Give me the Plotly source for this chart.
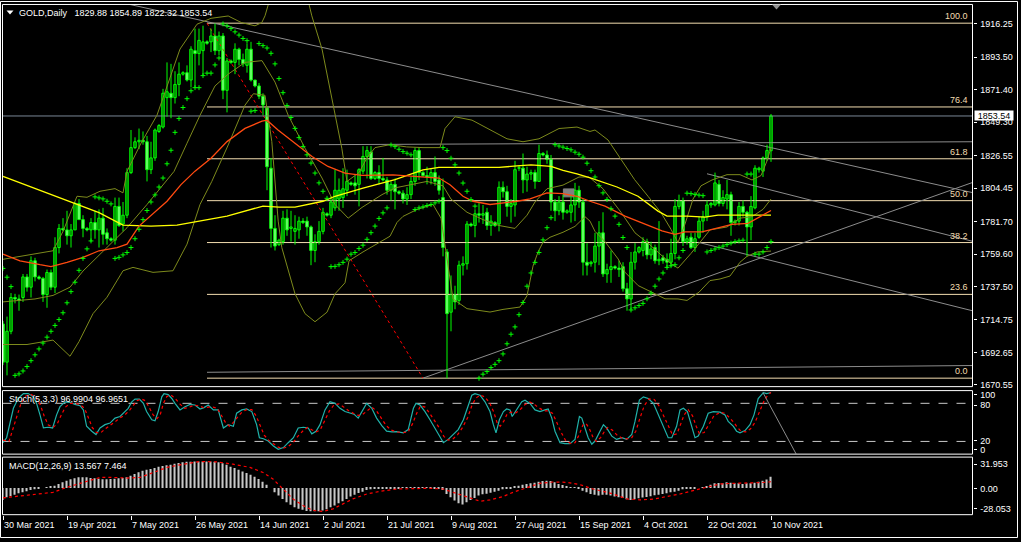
import plotly.graph_objects as go

W, H = 1021, 542

# ---------------- DATA ----------------
date_ticks = [0, 16, 32, 48, 64, 80, 96, 112, 128, 144, 160, 176, 192]
date_labels = ["30 Mar 2021", "19 Apr 2021", "7 May 2021", "26 May 2021", "14 Jun 2021",
               "2 Jul 2021", "21 Jul 2021", "9 Aug 2021", "27 Aug 2021", "15 Sep 2021",
               "4 Oct 2021", "22 Oct 2021", "10 Nov 2021"]

price_ticks = [1916.25, 1893.50, 1871.40, 1849.30, 1826.55, 1804.45, 1781.70,
               1759.60, 1737.50, 1714.75, 1692.65, 1670.55]

open_ = [1712,1686,1707,1730,1729,1730,1744,1737,1755,1744,
         1743,1732,1747,1737,1764,1777,1776,1772,1776,1794,
         1783,1777,1776,1781,1776,1784,1774,1770,1769,1792,
         1780,1786,1815,1832,1836,1837,1836,1817,1825,1843,
         1846,1866,1869,1866,1875,1882,1883,1878,1898,1896,
         1898,1904,1904,1908,1898,1908,1871,1891,1890,1899,
         1892,1888,1899,1878,1874,1867,1859,1818,1777,1766,
         1768,1784,1777,1775,1776,1782,1782,1778,1762,1768,
         1775,1787,1786,1791,1797,1798,1803,1808,1808,1807,
         1816,1826,1829,1811,1815,1811,1810,1803,1807,1802,
         1801,1797,1800,1809,1830,1815,1813,1812,1815,1810,
         1798,1761,1720,1732,1728,1752,1753,1780,1779,1787,
         1786,1788,1779,1781,1780,1805,1802,1792,1793,1818,
         1818,1810,1814,1815,1809,1828,1827,1824,1795,1789,
         1795,1788,1788,1793,1803,1795,1754,1753,1754,1765,
         1774,1746,1749,1751,1750,1751,1736,1729,1754,1761,
         1762,1768,1759,1764,1755,1757,1756,1754,1760,1792,
         1796,1768,1771,1764,1771,1782,1785,1793,1793,1807,
         1794,1797,1800,1781,1782,1792,1788,1778,1791,1817,
         1816,1825,1829.88]
high = [1714,1717,1733,1732.5,1732,1746,1746,1758,1757,1745,
        1744,1749,1749,1771,1780,1784,1789,1780,1795,1797,
        1786,1778,1784,1789,1790,1791,1777,1771,1798,1798,
        1795,1818,1844,1839,1845,1843,1840,1836,1845,1848,
        1872,1890,1889,1884,1890,1884,1888,1901,1913,1913,
        1915,1905,1913,1916.5,1911,1910,1893,1892,1903,1900,
        1896,1903,1904,1878,1876,1869,1860,1825,1786,1770,
        1789,1790,1789,1786,1785,1784,1785,1779,1773,1782,
        1791,1788,1799,1817,1811,1818,1817,1809,1813,1818,
        1833,1833,1833,1816,1820,1825,1812,1809,1811,1803,
        1803,1805,1812,1832,1832,1816,1819,1818,1826,1813,
        1811,1763,1745,1738,1755,1758,1782,1781,1790,1795,
        1793,1791,1786,1782,1809,1809,1806,1797,1823,1820,
        1828,1819,1817,1817,1834,1829,1830,1827,1797,1799,
        1800,1790,1799,1808,1806,1797,1767,1755,1774,1782,
        1788,1753,1762,1752,1755,1754,1740,1761,1767,1765,
        1771,1770,1768,1766,1782,1759,1760,1770,1797,1800,
        1798,1772,1774,1774,1785,1789,1796,1795,1815,1810,
        1803,1810,1802,1783,1795,1796,1789,1799,1820,1819,
        1826,1834,1854.89]
low = [1684,1677,1705,1726,1721,1727,1734,1730,1741,1742,
       1727,1723,1735,1733,1760,1775,1766,1764,1776,1783,
       1771,1775,1768,1770,1764,1766,1766,1768,1766,1778,
       1775,1784,1814,1831,1831,1834,1809,1814,1823,1842,
       1845,1853,1852,1862,1867,1881,1877,1873,1873,1888,
       1881,1902,1897,1895,1895,1865,1856,1889,1882,1888,
       1887,1883,1877,1873,1865,1854,1803,1764,1762,1765,
       1766,1772,1768,1766,1770,1780,1772,1752,1754,1766,
       1773,1785,1784,1789,1789,1791,1799,1806,1800,1792,
       1814,1811,1810,1810,1807,1809,1800,1796,1790,1800,
       1794,1793,1797,1806,1810,1812,1807,1807,1806,1800,
       1758,1675,1707,1722,1725,1745,1749,1778,1771,1781,
       1780,1776,1772,1778,1775,1798,1785,1781,1785,1816,
       1801,1802,1810,1804,1809,1826,1821,1789,1782,1786,
       1783,1787,1781,1782,1791,1745,1745,1751,1747,1752,
       1744,1740,1740,1749,1744,1734,1721,1722,1749,1760,
       1758,1756,1756,1753,1752,1753,1750,1751,1756,1790,
       1765,1766,1763,1761,1770,1774,1782,1791,1792,1792,
       1792,1790,1772,1779,1779,1785,1758,1769,1790,1815,
       1812,1823,1822.32]
close = [1686,1707,1730,1729,1728,1744,1737,1755,1744,1743,
         1732,1747,1737,1764,1777,1776,1772,1776,1794,1783,
         1777,1776,1781,1776,1784,1773,1770,1769,1792,1779,
         1786,1815,1832,1836,1837,1836,1817,1825,1844,1847,
         1869,1870,1866,1875,1882,1883,1878,1899,1896,1905,
         1904,1903,1908,1898,1908,1871,1891,1890,1899,1892,
         1889,1899,1878,1874,1867,1861,1819,1777,1765,1769,
         1784,1776,1778,1777,1782,1781,1778,1762,1768,1775,
         1788,1786,1795,1803,1803,1804,1809,1807,1806,1817,
         1826,1830,1811,1815,1811,1810,1803,1807,1802,1801,
         1797,1800,1809,1830,1815,1813,1812,1815,1809,1803,
         1764,1719,1732,1727,1752,1753,1780,1779,1787,1786,
         1787,1779,1782,1779,1805,1802,1792,1794,1817,1818,
         1810,1814,1815,1809,1828,1827,1824,1795,1789,1795,
         1788,1789,1793,1803,1795,1754,1752,1754,1765,1774,
         1746,1749,1751,1750,1749,1736,1729,1754,1761,1764,
         1768,1759,1763,1755,1756,1755,1754,1760,1792,1796,
         1768,1770,1764,1770,1782,1785,1793,1794,1808,1794,
         1798,1800,1781,1782,1792,1788,1778,1792,1818,1818,
         1825,1830,1853.54]

sar = [1749.8,1743.8,1737.4,1677,1678,1680,1683,1687,1691,1695,
       1699,1703,1707,1711,1715,1719.6,1726.4,1734,1740.4,1748.5,
       1756.6,1763.1,1768.5,1798.5,1797.8,1797.1,1795.5,1793.7,1756.6,1757.3,
       1759,1760.6,1764,1770,1776.4,1783,1789.2,1795,1799.8,1805.2,
       1811.3,1821,1830.2,1842.4,1851.8,1859.3,1865.3,1870.7,1872.8,1872.8,
       1881,1882.7,1882.7,1888.3,1893,1916.2,1914.9,1913,1910.8,1908.6,
       1906.3,1904.8,1856.8,1857.2,1902.8,1901.4,1899.8,1896.2,1889,1879,
       1869.4,1860.6,1852.5,1845.1,1838.8,1832.7,1827.1,1821.5,1814.7,1808,
       1802.3,1797.5,1751,1751.2,1752.3,1753.9,1756.1,1759.5,1760.6,1763.3,
       1765.6,1769.6,1774.1,1778.6,1783.8,1787.6,1791,1833.8,1832.7,1830.9,
       1829.3,1828.2,1827.1,1789.9,1791,1791.7,1792.6,1793.3,1794.4,1795.5,
       1832,1830,1824.8,1820.3,1814.7,1807.9,1802.3,1796.7,1792.2,1675,
       1677.8,1679.6,1682.3,1684.5,1687,1691.6,1698.5,1705,1710,1718.3,
       1726.6,1737.7,1746.7,1753.9,1760.6,1769.2,1777.5,1784.3,1834,1833.1,
       1832.3,1831.4,1830.5,1828.9,1827.5,1825.5,1821.4,1816.3,1812,1806.1,
       1801.2,1796.7,1790.4,1785.4,1779.8,1770.8,1764,1721.5,1723,1724.5,
       1726,1729.1,1733,1737.7,1742.6,1746.7,1750.5,1751.6,1752.3,1757,
       1762,1801,1800.7,1800.2,1799.7,1799.3,1761,1762,1763,1764,
       1765,1766,1767,1768,1768.5,1769,1814,1814,1759.5,1759.5,
       1761,1764,1768]

ma_yellow_bar = [0,7.5,16,24,30,37,43.5,47,49,56,65,69,73,80,83,90,98,105,109,124,128.5,
                 132,137,140,143.5,147,153.5,158.75,163.75,166,171,175.5,178.75,187,192]
ma_yellow_val = [1812.4,1804.6,1795.5,1787.7,1779.3,1778.6,1779.3,1780.9,1782,1785.4,1792.2,
                 1791.5,1791.5,1795.5,1798.9,1804.5,1810.2,1816.9,1818.5,1818.5,1819.6,1820.3,
                 1819.2,1816.5,1814.2,1811.3,1805.2,1798.9,1788.8,1785.4,1785.4,1784.7,1786.1,
                 1786.1,1786.1]

ma_orange_bar = [0,4.25,9.25,12,16,20,24,28.5,31,34,41,44.5,48,52,56,60.5,64.75,66,68.75,73,
                 77.25,81.25,85.5,89.75,97.5,109,111.75,115,117.5,121.75,128.5,131.75,136,140,
                 143.5,146.75,150.5,155.5,160.5,164.75,168,170.5,174.75,178.75,182.25,186.25,
                 188.75,192]
ma_orange_val = [1759.5,1755,1752.3,1751,1753.9,1757.3,1761.8,1764,1766.3,1778.6,1795.5,1806.8,
                 1816,1824.8,1836.1,1845.1,1850,1850.7,1844,1835,1826,1819.2,1814.7,1813.1,
                 1813.4,1811.3,1806.8,1798.9,1795.5,1793.3,1795.5,1797.1,1801.2,1800.7,1798.9,
                 1795.5,1792.2,1785.4,1779.8,1775.3,1773,1774.6,1774.6,1777.5,1779.8,1780.5,
                 1784.3,1789.2]

# Bollinger bands (upper / middle / lower), read as (bar, price)
bb_up_bar = [0,6,12.5,15,18.5,21,24.25,28,30,31,34.5,38.5,41.5,44.25,48.5,52,56.3,59.6,63,
             64.7,65.5,66.5,68,71,74,76.5,77.2,79.75,81.4,83,84.7,86,87.5,89,91,93,96.75,100.9,
             105,109.25,110.5,113,117.25,121.75,126,130,134,139,143.5,146.75,148,151.25,154.5,
             157.9,161.25,164.5,167,168.75,170.5,172.5,174.5,177.25,181,184.25,187.25,189.5,
             191,192]
bb_up_val = [1756,1759,1761.8,1775,1798.9,1798.2,1802.3,1804.1,1801.2,1815.8,1835,1854.1,1877,
             1899.1,1916,1920,1921.6,1917.1,1914.9,1917.1,1921.7,1930,1945,1958,1948,1929.6,
             1921.7,1899.1,1876.6,1854.1,1831.6,1809,1812,1815,1825,1832,1834,1832.5,1832,1832,
             1845,1853,1850.7,1844,1838,1836,1838,1845,1846,1843,1844,1837.2,1823.7,1810.2,
             1798.9,1787.7,1776.4,1767.4,1780,1797,1806,1810,1813.6,1813.6,1810,1813,1823,1832]
bb_mid_bar = [0,8,12.5,16.75,20,24.25,28,31,36,42.75,46,49.25,53,56.3,60.5,64.75,68,71.3,75.5,
              79.75,83,86.3,89.75,94.75,98,102,106,110,112,116,120,124,128,131,133,136,140,144,
              146.5,150,154.5,158,161.25,164.5,167,168.75,172,176.75,181,184.25,187.25,190,192]
bb_mid_val = [1727,1729,1731.4,1737,1748,1759.5,1769,1777.5,1793.3,1815.8,1835,1854,1874,1882,
              1890,1891.2,1876.6,1854.1,1831.6,1811.3,1793.3,1784,1791.3,1800,1804.6,1807,1809,
              1806,1797,1788,1783,1779,1777,1786,1795,1804,1806.5,1812,1812,1804,1788,1774,1767,
              1759,1753,1750,1760,1776,1778,1784,1785,1790,1797]
bb_low_bar = [0,6,12.5,16.75,19,22.5,26,30,32.5,37.5,42.5,46,49.25,52.2,56.3,60.5,62.6,65.5,
              67.2,68,68.8,69.7,73,75.5,78,81,83,85.5,86.5,90,93,96.75,98.5,100,103.5,107.5,
              109.5,110.5,111.5,112.5,116,121.75,125,129.25,131,131.75,132.5,133.75,135,136.75,
              140,143,145.5,146.75,148,150.5,153.8,155.5,158.8,162.2,165.5,168.75,171,174,
              176.75,179.25,181.75,184.25,186,188.5,192]
bb_low_val = [1698,1698,1701,1690,1700,1719,1730.2,1748.2,1750.5,1747.1,1748.2,1766.3,1793.3,
              1809,1833.8,1860.9,1868.7,1867.6,1836.1,1809,1782,1764,1732.5,1719,1713.5,1720,
              1732.5,1740,1755,1761,1766,1771.7,1781.1,1785.2,1789.9,1793.3,1784,1765,1745,1729,
              1722.4,1720.1,1721.9,1723.5,1731.2,1742.6,1751.4,1760.9,1767.6,1771,1774.4,1778.4,
              1785,1782,1775,1768,1756.2,1747.2,1738.1,1733.6,1729.1,1729,1728,1733.6,1741.5,
              1742.6,1744.6,1754,1758,1761,1761.6]

stoch_main_bar = [0,0.9,2.6,3.8,5.1,6.3,7.6,8.4,9.25,10.1,11.3,12.4,13.4,14.25,15.5,16.75,18,
                  19.25,20.1,20.9,22.2,23.25,24.25,25.5,26.75,28,29.25,30.5,31.3,32.2,33,34.1,
                  35.1,35.9,37.2,38,38.8,39.7,40.25,41.3,42.2,43,44.25,45.5,46.75,48,49.25,50.25,
                  51.3,52.6,53.8,55.1,56.3,57.6,58.4,59.7,60.9,62.2,63.4,64.1,65.1,66.3,67.6,
                  68.8,70.1,71.3,72.6,73.8,75.1,76.3,77.2,78.25,79.25,80.5,81.75,83,84.25,85.5,
                  86.75,87.75,88.8,89.7,90.9,92.2,93.4,94.7,95.9,97.2,98.4,100.1,101.3,102.6,
                  103.25,104.25,105.5,106.75,108,109.25,110.1,111.3,112.6,113.8,115.1,116.3,
                  117.2,118,119.25,120.5,121.75,122.6,123.25,124.1,125.1,125.9,126.75,127.3,
                  128.4,129.7,130.5,131.75,133,134.25,135.5,136.3,137.2,138,139.25,140.5,141.75,
                  143,144.1,144.7,145.5,146.3,147.2,148,149.25,150.1,150.9,152.2,153.4,154.7,
                  155.9,157.2,158,159.1,160.1,161.3,162.6,163.8,165.1,166.3,167.2,168.4,169.25,
                  170.1,171.1,172.2,173,173.8,175.1,176.3,177.6,179.25,180.5,181.3,182.6,183.4,
                  184.25,185.5,186.75,187.75,188.8,190.1,190.9,192]
stoch_main_val = [18,25.8,72.1,87.6,95.3,95.3,90.2,79.9,61.8,41.2,42.3,41.2,61.8,74.7,82.4,81.4,
                  78.3,76.3,69.6,43.8,36.1,30.9,41.2,46.4,48.9,56.7,59.3,67,72.1,82.4,86.6,86.6,
                  79.9,67,54.1,52.6,67,90.2,95.3,93.8,87.6,79.9,69.6,74.7,78.3,77.3,71.1,73.2,
                  77.3,69.6,69.6,41.2,46.4,43.8,64.4,69.6,71.1,67,46.4,25.8,24.2,20.6,12.9,7.7,
                  10.3,18,25.8,41.2,42.3,41.2,31.9,36.1,46.4,69.6,82.4,79.9,72.1,67,64.4,62.9,
                  56.7,67,79.9,72.1,56.7,45,36.1,35,35.5,33.5,38.6,72.1,79.9,77.3,67,54.1,41.2,
                  28.3,18,23.2,30.9,38.6,54.1,77.3,92.7,95.3,92.7,82.4,67,46.4,33.5,54.1,67,71.1,
                  69.6,59.3,69.6,82.4,85,79.9,69.6,67,69.6,71.1,56.7,36.1,18,16.5,16.5,23.2,59.3,
                  56.7,41.2,25.8,15.5,20.6,36.1,46.4,41.2,28.3,23.2,25.8,23.2,30.9,51.5,85,90.2,
                  87.6,79.9,61.8,41.2,25.8,25.8,43.8,69.6,72.1,67,43.8,25.8,28.3,43.8,64.4,67,66,
                  61.8,51.5,43.8,36.1,33.5,37.1,46.4,61.8,87.6,96.9,95.3,96.99]

stoch_sig_bar = [0,1.5,2.5,3.5,4.5,5.8,7,8.2,9.3,10.3,11.3,12.5,13.6,14.6,15.6,16.8,18,19.3,20.4,
                 21.3,22.3,23.4,24.5,25.6,26.8,28,29.3,30.5,31.5,32.5,33.5,34.6,35.6,36.5,37.5,
                 38.5,39.3,40.1,41,42,43,44.2,45.4,46.6,47.8,49,50.2,51.3,52.5,53.6,54.6,55.6,
                 56.6,57.6,58.6,59.7,60.9,62.2,63.3,64.3,65.3,66.4,67.6,68.8,70,71.3,72.5,73.7,
                 74.9,76.1,77.3,78.3,79.3,80.4,81.6,82.8,84,85.2,86.5,87.7,88.8,89.8,91,92.2,
                 93.4,94.6,95.8,97,98.3,100,101.3,102.4,103.4,104.4,105.5,106.7,108,109.2,110.2,
                 111.3,112.5,113.7,114.9,116.2,117.2,118.2,119.3,120.5,121.7,122.7,123.5,124.3,
                 125.2,126.1,127.1,128.2,129.3,130.5,131.7,132.9,134.2,135.4,136.5,137.4,138.3,
                 139.4,140.6,141.8,143,144,145,145.8,146.6,147.4,148.3,149.4,150.4,151.2,152.3,
                 153.5,154.8,156,157.2,158.2,159.2,160.3,161.5,162.8,164,165.2,166.4,167.4,168.5,
                 169.4,170.3,171.3,172.4,173.3,174.1,175.3,176.5,177.7,179.3,180.6,181.5,182.7,
                 183.6,184.5,185.7,186.9,188,189,190.3,191.2,192]
stoch_sig_val = [22,20,40,62,80,92,94,90,78,60,46,42,48,62,74,80,80,78,72,58,42,34,34,40,46,51,
                 57,62,68,76,84,87,84,74,62,56,62,80,91,93,88,79,72,74,77,76,73,74,74,72,62,50,
                 44,50,58,66,70,70,60,44,30,22,16,11,9,12,18,28,36,42,38,35,38,52,68,78,79,74,
                 68,64,61,62,68,74,68,57,45,38,35,34,35,48,64,76,74,64,52,40,28,22,24,31,42,58,
                 76,88,93,90,80,66,50,44,52,64,66,65,70,78,82,78,72,68,68,64,52,36,22,17,18,30,
                 46,48,40,28,20,26,36,42,38,30,25,24,26,36,56,76,87,86,76,60,42,30,32,46,62,70,
                 60,44,32,34,46,60,66,64,58,50,42,36,35,40,50,66,84,93,96.97]

macd_hist = [-14.4,-11.2,-9.6,-8.0,-6.4,-5.2,-4.0,-2.4,-1.6,-0.4,0.0,0.4,1.6,2.8,4.8,6.8,8.8,10.4,
             11.6,12.8,12.8,12.8,12.0,11.6,11.2,10.4,10.4,10.8,11.2,11.6,12.0,12.8,14.8,16.8,18.8,
             20.8,22.0,22.8,24.0,25.6,26.4,27.2,28.0,29.2,30.0,30.8,31.4,31.6,31.8,31.9,31.953,
             31.9,31.7,31.4,31.0,29.8,27.8,25.5,23.9,21.9,19.9,17.9,15.9,13.5,10.7,7.6,4.0,0.0,
             -5.2,-9.1,-13.1,-17.1,-20.3,-23.1,-25.1,-26.3,-27.8,-28.05,-28.0,-27.9,-27.0,-25.5,
             -23.1,-21.1,-18.3,-15.9,-13.1,-10.3,-8.0,-6.0,-4.4,-2.4,-1.6,-1.2,-0.8,-1.2,-1.0,
             -0.8,-0.4,-0.3,0.3,0.4,0.4,0.8,0.8,0.4,0.2,0.1,-0.2,-0.8,-2.4,-7.2,-11.1,-15.1,
             -18.3,-19.9,-17.1,-14.3,-11.9,-9.1,-7.6,-6.8,-5.6,-4.4,-3.2,-1.6,-0.8,-0.4,1.6,2.8,
             4.0,4.8,5.6,6.4,7.6,8.4,8.8,8.4,6.8,4.8,3.6,2.0,0.8,0.4,-0.4,-3.2,-5.2,-7.2,-8.0,
             -9.1,-8.0,-8.0,-9.1,-10.3,-11.1,-11.9,-13.5,-14.3,-13.5,-12.3,-11.5,-10.7,-9.9,-8.8,
             -8.0,-7.2,-6.4,-5.2,-4.4,-3.2,-1.6,-1.2,-0.4,-0.4,0.0,0.8,2.4,4.0,5.6,6.0,5.6,6.8,
             6.4,5.6,5.6,4.8,5.6,5.6,6.4,7.6,8.8,10.3,13.567]

macd_sig_bar = [0,7.5,12.5,16,19.25,24.25,27.5,31,34.25,37.5,41,44.25,47.5,49.25,53.5,57.5,61.75,
                65,67.5,70,72.5,75,77.5,80,82.5,85,87.5,91,94.25,98.5,102.5,106.75,110,112.5,116,
                119.25,121.75,125,127.5,131,134.25,137.5,141,144.25,147.5,151,152.5,156,159.25,
                162.5,166,169.25,172.5,176,179.25,182.5,186,189.25,192]
macd_sig_val = [-11.9,-8.0,-5.2,0.8,5.6,12.7,12.7,11.9,12.7,18.7,24.7,27.8,30.6,31.8,31.4,28.6,
                24.7,18.7,10.7,-1.2,-13.1,-21.1,-27.0,-28.2,-25.1,-19.1,-13.1,-7.2,-4.0,-1.2,-0.4,
                -0.4,-1.2,-5.2,-11.1,-15.9,-14.3,-10.3,-5.2,0.0,5.6,7.2,6.8,4.0,-1.2,-5.2,-7.2,
                -13.1,-14.3,-13.5,-10.3,-7.2,-3.2,0.8,4.8,5.6,5.6,6.4,7.464]

# drawn objects: (bar, price) anchors
fib_anchor_high = (51, 1916.7)
fib_anchor_low = (105, 1675.1)
fib_levels = [0.0, 23.6, 38.2, 50.0, 61.8, 76.4, 100.0]
trend_long = [(53, 1916.5), (192, 1832.0)]
trend_flat = [(79, 1834.0), (242.3, 1836.0)]
trend_up = [(105, 1675.1), (242.3, 1808.2)]
channel_a = [(176, 1814.2), (242.3, 1768.3)]
channel_b = [(173.75, 1767.6), (242.3, 1721.0)]
trend_bottom = [(51, 1679.1), (242.3, 1683.7)]
grey_box = [(140.1, 1798.5), (142.75, 1803.9)]
bid_price = 1853.54
stoch_trend = [(190, 96.8), (198.25, 0.6)]

title_text = "GOLD,Daily\u00a0\u00a0\u00a01829.88 1854.89 1822.32 1853.54"
stoch_title = "Stoch(5,3,3) 96.9904 96.9651"
macd_title = "MACD(12,26,9) 13.567 7.464"

# ---------------- LAYOUT GEOMETRY (pixels) ----------------
LEFT, RIGHT = 2.5, 972.5
MAIN_T, MAIN_B = 3.5, 388.5
ST_T, ST_B = 392.5, 456.5
MD_T, MD_B = 459.5, 517.5
X0 = (LEFT - 3) / 4.0
X1 = X0 + (RIGHT - LEFT) / 4.0
P_TOP = 1931.79 - 0.67556 * MAIN_T
P_BOT = 1931.79 - 0.67556 * MAIN_B
MACD_TOP = (490.6 - MD_T) / 0.838
MACD_BOT = (490.6 - MD_B) / 0.838


def px(x):
    return x / W


def py(y):
    return 1 - y / H


FONT = "Liberation Sans, Arial, sans-serif"
GREEN = "#00FF00"
FIB_C = "#F3DDB0"
GREY = "#8C8C8C"
OLIVE = "#7D8A1C"

fig = go.Figure()


def ray(p1, p2, x_start, x_end):
    (xa, ya), (xb, yb) = p1, p2
    k = (yb - ya) / (xb - xa)
    return [x_start, x_end], [ya + k * (x_start - xa), ya + k * (x_end - xa)]


def add_line(xs, ys, color, width=1, dash=None, xa="x", ya="y"):
    fig.add_trace(go.Scatter(x=xs, y=ys, mode="lines", xaxis=xa, yaxis=ya,
                             line=dict(color=color, width=width, dash=dash),
                             hoverinfo="skip", showlegend=False))


# ---- objects (behind candles)
fh, fl = fib_anchor_high[1], fib_anchor_low[1]
for lv in fib_levels:
    yv = fl + (fh - fl) * lv / 100.0
    add_line([fib_anchor_high[0], X1], [yv, yv], FIB_C)
add_line([fib_anchor_high[0], fib_anchor_low[0]], [fh, fl], "#FF0000", 1, "dot")

for seg, from_left in ((trend_long, True), (trend_flat, False), (trend_up, False),
                       (channel_a, False), (channel_b, False), (trend_bottom, False)):
    xs, ys = ray(*seg, X0 if from_left else seg[0][0], X1)
    add_line(xs, ys, GREY)
add_line([X0, X1], [bid_price, bid_price], "#7A8696")

fig.add_trace(go.Scatter(
    x=[grey_box[0][0], grey_box[1][0], grey_box[1][0], grey_box[0][0], grey_box[0][0]],
    y=[grey_box[0][1], grey_box[0][1], grey_box[1][1], grey_box[1][1], grey_box[0][1]],
    mode="lines", fill="toself", fillcolor="#808080", line=dict(color="#808080", width=1),
    hoverinfo="skip", showlegend=False))

# ---- candles
n = len(close)
wx, wy = [], []
for i in range(n):
    wx += [i, i, None]
    wy += [low[i], high[i], None]
add_line(wx, wy, GREEN, 1)
base = [min(open_[i], close[i]) for i in range(n)]
hgt = [max(abs(close[i] - open_[i]), 0.3) for i in range(n)]
fills = ["#000000" if close[i] >= open_[i] else "#FFFFFF" for i in range(n)]
fig.add_trace(go.Bar(x=list(range(n)), y=hgt, base=base, width=0.62,
                     marker=dict(color=fills, line=dict(color=GREEN, width=1)),
                     hoverinfo="skip", showlegend=False))

# ---- indicators on price
add_line(bb_up_bar, bb_up_val, OLIVE, 1)
add_line(bb_mid_bar, bb_mid_val, OLIVE, 1)
add_line(bb_low_bar, bb_low_val, OLIVE, 1)
add_line(ma_yellow_bar, ma_yellow_val, "#FFFF00", 1.3)
add_line(ma_orange_bar, ma_orange_val, "#FF4A10", 1.3)
fig.add_trace(go.Scatter(x=list(range(n)), y=sar, mode="markers",
                         marker=dict(symbol="cross-thin", size=3.5, line=dict(color=GREEN, width=1)),
                         hoverinfo="skip", showlegend=False))

# ---- stochastic
for lvl in (80, 20):
    add_line([X0, X1], [lvl, lvl], "#C8C8C8", 1, "dash", "x2", "y2")
add_line(stoch_main_bar, stoch_main_val, "#20B2AA", 1.2, None, "x2", "y2")
add_line(stoch_sig_bar, stoch_sig_val, "#FF0000", 1.2, "dot", "x2", "y2")
add_line([stoch_trend[0][0], stoch_trend[1][0]], [stoch_trend[0][1], stoch_trend[1][1]],
         GREY, 1, None, "x2", "y2")

# ---- MACD
fig.add_trace(go.Bar(x=list(range(n)), y=macd_hist, width=0.28, xaxis="x3", yaxis="y3",
                     marker=dict(color="#C8C8C8", line=dict(width=0)),
                     hoverinfo="skip", showlegend=False))
add_line(macd_sig_bar, macd_sig_val, "#FF0000", 1.2, "dot", "x3", "y3")

# ---------------- axes ----------------
tickfont = dict(family=FONT, size=9, color="#FFFFFF")
common_x = dict(range=[X0, X1], domain=[px(LEFT), px(RIGHT)], showgrid=False,
                zeroline=False, showline=False, fixedrange=True)
fig.update_layout(
    width=W, height=H, margin=dict(l=0, r=0, t=0, b=0),
    paper_bgcolor="#000000", plot_bgcolor="#000000",
    showlegend=False, barmode="overlay", hovermode=False,
    xaxis=dict(**common_x, anchor="y", showticklabels=False, ticks=""),
    yaxis=dict(range=[P_BOT, P_TOP], domain=[py(MAIN_B), py(MAIN_T)], side="right",
               anchor="x", showgrid=False, zeroline=False, showline=False,
               tickvals=price_ticks, ticktext=["%.2f" % v for v in price_ticks],
               ticks="outside", ticklen=3, tickcolor="#FFFFFF", tickfont=tickfont,
               ticklabelstandoff=2),
    xaxis2=dict(**common_x, anchor="y2", showticklabels=False, ticks=""),
    yaxis2=dict(range=[0, 100], domain=[py(ST_B), py(ST_T)], side="right", anchor="x2",
                showgrid=False, zeroline=False, showline=False,
                tickvals=[94.0, 77.0, 21.0, 7.0], ticktext=["100", "80", "20", "0"],
                ticks="outside", ticklen=3, tickcolor="#FFFFFF", tickfont=tickfont,
                ticklabelstandoff=2),
    xaxis3=dict(**common_x, anchor="y3", showticklabels=False, ticks="outside",
                ticklen=4, tickcolor="#FFFFFF", tickvals=date_ticks),
    yaxis3=dict(range=[MACD_BOT, MACD_TOP], domain=[py(MD_B), py(MD_T)], side="right",
                anchor="x3", showgrid=False, zeroline=False, showline=False,
                tickvals=[28.5, -0.5, -25.2], ticktext=["31.953", "0.00", "-28.053"],
                ticks="outside", ticklen=3, tickcolor="#FFFFFF", tickfont=tickfont,
                ticklabelstandoff=2),
)

# ---------------- frames ----------------
shapes = []
for (t, b) in ((MAIN_T, MAIN_B), (ST_T, ST_B), (MD_T, MD_B)):
    shapes.append(dict(type="rect", xref="paper", yref="paper", x0=px(LEFT), x1=px(RIGHT),
                       y0=py(b), y1=py(t), line=dict(color="#FFFFFF", width=1)))
shapes.append(dict(type="rect", xref="paper", yref="paper", x0=px(0.5), x1=px(1017.5),
                   y0=py(540.5), y1=py(0.5), line=dict(color="#FFFFFF", width=1)))
shapes.append(dict(type="path", xref="paper", yref="paper", fillcolor="#FFFFFF",
                   line=dict(width=0),
                   path="M %f,%f L %f,%f L %f,%f Z" % (px(6.5), py(9.5), px(13.5), py(9.5),
                                                       px(10), py(13.5))))
shapes.append(dict(type="path", xref="paper", yref="paper", fillcolor="#909090",
                   line=dict(width=0),
                   path="M %f,%f L %f,%f L %f,%f Z" % (px(772), py(3.5), px(781), py(3.5),
                                                       px(776.5), py(8.5))))
fig.update_layout(shapes=shapes)

# ---------------- texts ----------------
ann = []
f9 = dict(family=FONT, size=9, color="#FFFFFF")
ann.append(dict(text=title_text, xref="paper", yref="paper", x=px(17), y=py(12),
                xanchor="left", yanchor="middle", showarrow=False, font=f9))
ann.append(dict(text=stoch_title, xref="paper", yref="paper", x=px(7), y=py(401),
                xanchor="left", yanchor="middle", showarrow=False, font=f9))
ann.append(dict(text=macd_title, xref="paper", yref="paper", x=px(7), y=py(468),
                xanchor="left", yanchor="middle", showarrow=False, font=f9))
for tv, tl in zip(date_ticks, date_labels):
    ann.append(dict(text=tl, xref="x3", yref="paper", x=tv, y=py(528), xanchor="left",
                    yanchor="middle", showarrow=False, font=f9, xshift=-1))
for lv in fib_levels:
    yv = fl + (fh - fl) * lv / 100.0
    ann.append(dict(text="%.1f" % lv, xref="paper", yref="y", x=px(970), y=yv,
                    xanchor="right", yanchor="bottom", showarrow=False,
                    font=dict(family=FONT, size=9, color=FIB_C)))
ann.append(dict(text="1853.54", xref="paper", yref="y", x=px(973.5), y=bid_price,
                xanchor="left", yanchor="middle", showarrow=False, bgcolor="#FFFFFF",
                font=dict(family=FONT, size=9, color="#000000"), width=38, height=9,
                borderpad=0))
fig.update_layout(annotations=ann)

fig.write_html("out.html", config={"displayModeBar": False},
               post_script="document.body.style.margin='0';")
